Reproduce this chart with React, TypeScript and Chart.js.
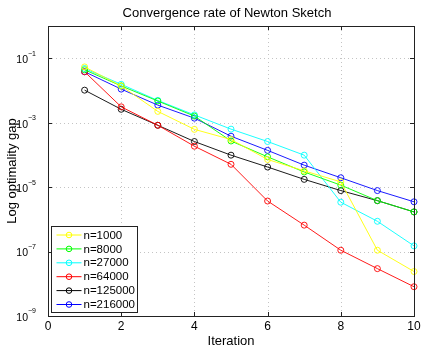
import React, { useEffect, useRef } from "react";
import { Chart, registerables } from "chart.js";

Chart.register(...registerables);

const iterations = [1, 2, 3, 4, 5, 6, 7, 8, 9, 10];
const seriesLabels = ["n=1000", "n=8000", "n=27000", "n=64000", "n=125000", "n=216000"];
const gapN1000 = [0.0537, 0.0138, 2.24e-3, 6.2e-4, 3.0e-4, 7.2e-5, 3.2e-5, 1.45e-5, 1.1e-7, 2.4e-8];
const gapN8000 = [0.0437, 0.0138, 4.7e-3, 1.6e-3, 2.7e-4, 8.7e-5, 2.95e-5, 1.15e-5, 3.8e-6, 1.7e-6];
const gapN27000 = [0.048, 0.0155, 4.9e-3, 1.74e-3, 6.3e-4, 2.6e-4, 9.8e-5, 3.4e-6, 8.7e-7, 1.5e-7];
const gapN64000 = [0.038, 3.1e-3, 8.3e-4, 1.86e-4, 5.1e-5, 3.7e-6, 6.6e-7, 1.1e-7, 2.95e-8, 8.1e-9];
const gapN125000 = [0.0102, 2.6e-3, 8.3e-4, 2.6e-4, 9.8e-5, 4.2e-5, 1.74e-5, 7.8e-6, 3.8e-6, 1.7e-6];
const gapN216000 = [0.038, 0.011, 3.5e-3, 1.38e-3, 3.8e-4, 1.38e-4, 4.8e-5, 1.95e-5, 7.8e-6, 3.5e-6];
const seriesValues = [gapN1000, gapN8000, gapN27000, gapN64000, gapN125000, gapN216000];
const seriesColors = ["#ffff00", "#00ff00", "#00ffff", "#ff0000", "#000000", "#0000ff"];
const xTickValues = [0, 2, 4, 6, 8, 10];
const yTickExponents = [-9, -7, -5, -3, -1];
const titleText = "Convergence rate of Newton Sketch";
const xLabelText = "Iteration";
const yLabelText = "Log optimality gap";

const FONT = "'Liberation Sans', Arial, sans-serif";

const decorPlugin = {
  id: "matlabDecor",
  beforeDatasetsDraw(chart: any) {
    const { ctx, chartArea: a, scales } = chart;
    const xs = scales.x;
    const ys = scales.y;
    ctx.save();
    ctx.strokeStyle = "#c4c4c4";
    ctx.lineWidth = 1;
    ctx.setLineDash([1, 3]);
    xTickValues.forEach((v) => {
      const px = Math.round(xs.getPixelForValue(v)) + 0.5;
      if (v === 0 || v === 10) return;
      ctx.beginPath();
      ctx.moveTo(px, a.top);
      ctx.lineTo(px, a.bottom);
      ctx.stroke();
    });
    yTickExponents.forEach((e) => {
      if (e === -9) return;
      const py = Math.round(ys.getPixelForValue(Math.pow(10, e))) + 0.5;
      ctx.beginPath();
      ctx.moveTo(a.left, py);
      ctx.lineTo(a.right, py);
      ctx.stroke();
    });
    ctx.restore();
  },
  afterDraw(chart: any) {
    const { ctx, chartArea: a, scales } = chart;
    const xs = scales.x;
    const ys = scales.y;
    ctx.save();
    ctx.setLineDash([]);
    ctx.strokeStyle = "#222";
    ctx.lineWidth = 1;
    ctx.strokeRect(Math.round(a.left) + 0.5, Math.round(a.top) + 0.5, Math.round(a.right - a.left), Math.round(a.bottom - a.top));
    const tl = 4;
    xTickValues.forEach((v) => {
      const px = Math.round(xs.getPixelForValue(v)) + 0.5;
      ctx.beginPath();
      ctx.moveTo(px, a.bottom);
      ctx.lineTo(px, a.bottom - tl);
      ctx.moveTo(px, a.top);
      ctx.lineTo(px, a.top + tl);
      ctx.stroke();
    });
    yTickExponents.forEach((e) => {
      const py = Math.round(ys.getPixelForValue(Math.pow(10, e))) + 0.5;
      ctx.beginPath();
      ctx.moveTo(a.left, py);
      ctx.lineTo(a.left + tl, py);
      ctx.moveTo(a.right, py);
      ctx.lineTo(a.right - tl, py);
      ctx.stroke();
    });
    ctx.fillStyle = "#000";
    ctx.font = `12px ${FONT}`;
    ctx.textAlign = "center";
    ctx.textBaseline = "middle";
    xTickValues.forEach((v) => {
      ctx.fillText(String(v), xs.getPixelForValue(v), a.bottom + 10.5);
    });
    yTickExponents.forEach((e) => {
      const py = ys.getPixelForValue(Math.pow(10, e));
      const exp = "\u2212" + String(-e);
      ctx.font = `7px ${FONT}`;
      const ew = ctx.measureText(exp).width;
      ctx.font = `10.5px ${FONT}`;
      const bw = ctx.measureText("10").width;
      const right = a.left - 12;
      ctx.textAlign = "left";
      ctx.textBaseline = "middle";
      ctx.fillText("10", right - ew - bw, py + 2);
      ctx.font = `7px ${FONT}`;
      ctx.fillText(exp, right - ew, py - 4.5);
    });
    ctx.font = `13px ${FONT}`;
    ctx.textAlign = "center";
    ctx.textBaseline = "middle";
    ctx.fillText(titleText, 227, 13.5);
    ctx.fillText(xLabelText, (a.left + a.right) / 2, a.bottom + 25);
    ctx.save();
    ctx.translate(12, (a.top + a.bottom) / 2);
    ctx.rotate(-Math.PI / 2);
    ctx.fillText(yLabelText, 0, 0);
    ctx.restore();
    const lx = a.left + 3.5;
    const ly = a.bottom - 89.5;
    const lw = 86;
    const lh = 86;
    ctx.fillStyle = "#fff";
    ctx.fillRect(lx, ly, lw, lh);
    ctx.strokeStyle = "#222";
    ctx.strokeRect(lx, ly, lw, lh);
    seriesLabels.forEach((lab, i) => {
      const yy = ly + 8.5 + i * 13.9;
      ctx.strokeStyle = seriesColors[i];
      ctx.lineWidth = 1;
      ctx.beginPath();
      ctx.moveTo(lx + 5, yy);
      ctx.lineTo(lx + 30, yy);
      ctx.stroke();
      ctx.beginPath();
      ctx.arc(lx + 17.5, yy, 2.8, 0, Math.PI * 2);
      ctx.stroke();
      ctx.fillStyle = "#000";
      ctx.font = `11.5px ${FONT}`;
      ctx.textAlign = "left";
      ctx.textBaseline = "middle";
      ctx.fillText(lab, lx + 32, yy + 0.5);
    });
    ctx.restore();
  },
};

export default function App() {
  const canvasRef = useRef<HTMLCanvasElement | null>(null);

  useEffect(() => {
    const canvas = canvasRef.current;
    if (!canvas) return;
    const datasets = seriesLabels.map((lab, i) => ({
      label: lab,
      data: iterations.map((x, j) => ({ x, y: seriesValues[i][j] })),
      borderColor: seriesColors[i],
      backgroundColor: "rgba(0,0,0,0)",
      borderWidth: 0.9,
      pointRadius: 3,
      pointBorderWidth: 0.9,
      pointStyle: "circle",
      pointBackgroundColor: "rgba(0,0,0,0)",
      pointBorderColor: seriesColors[i],
      tension: 0,
      clip: false as any,
    }));
    const chart = new Chart(canvas, {
      type: "line",
      data: { datasets },
      options: {
        responsive: false,
        animation: false,
        devicePixelRatio: 1,
        layout: { padding: { left: 48, right: 11, top: 26, bottom: 34 } },
        plugins: { legend: { display: false }, title: { display: false }, tooltip: { enabled: false } },
        scales: {
          x: {
            type: "linear",
            min: 0,
            max: 10,
            ticks: { display: false },
            grid: { display: false, drawTicks: false },
            border: { display: false },
          },
          y: {
            type: "logarithmic",
            min: 1e-9,
            max: 1,
            ticks: { display: false },
            grid: { display: false, drawTicks: false },
            border: { display: false },
          },
        },
      },
      plugins: [decorPlugin],
    });
    return () => chart.destroy();
  }, []);

  return (
    <div style={{ position: "fixed", left: 0, top: 0, width: 425, height: 350, background: "#fff" }}>
      <canvas ref={canvasRef} width={425} height={350} />
    </div>
  );
}
